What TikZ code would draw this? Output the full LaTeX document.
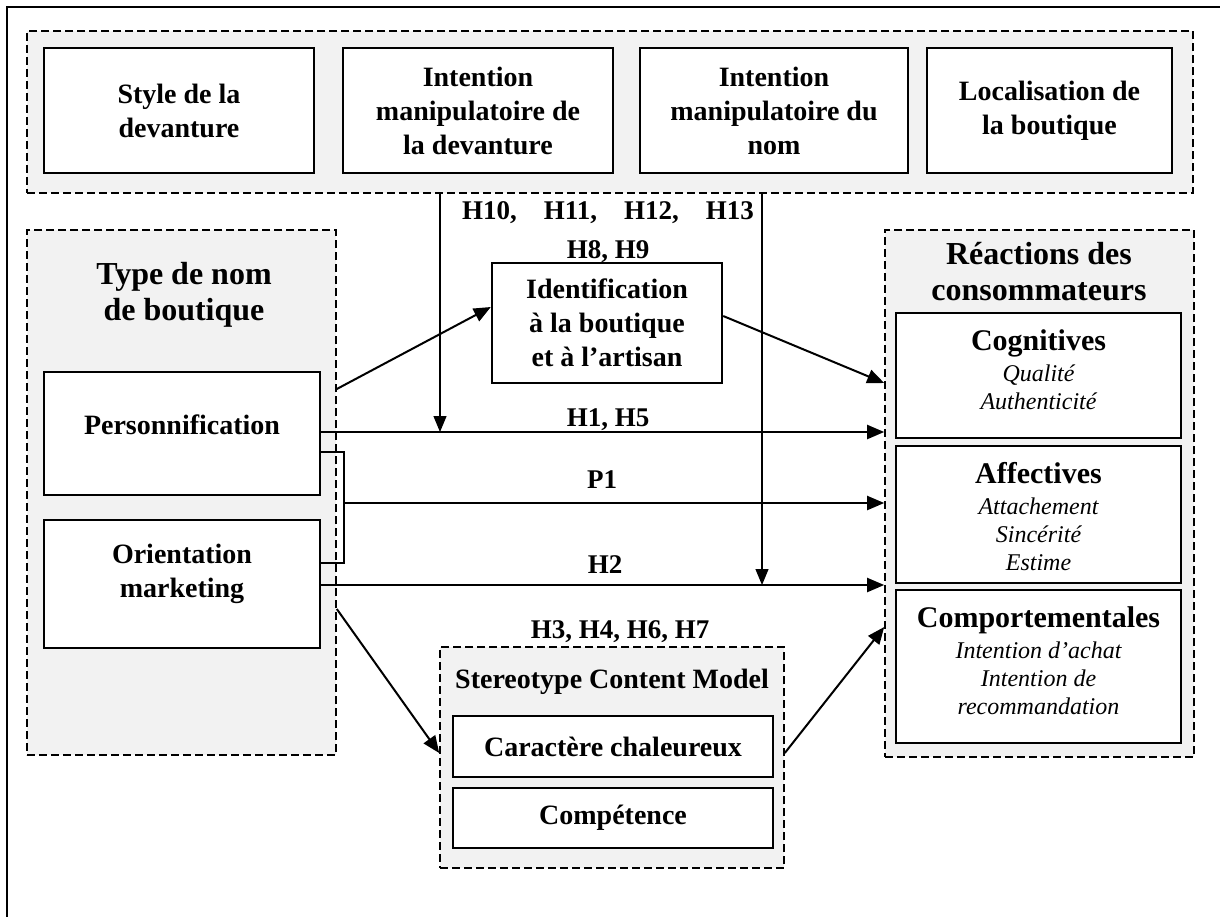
\documentclass[tikz,border=0pt]{standalone}
\usepackage{fontspec}
\setmainfont{Liberation Serif}
\usepackage{xcolor}
\usepackage{tikz}
\usetikzlibrary{arrows.meta}

\definecolor{boxgray}{HTML}{F2F2F2}
\newcommand{\reachead}{\fontsize{15}{17}\selectfont\bfseries\upshape}

\tikzset{
    grp/.style={draw, dash pattern=on 4pt off 2pt, line width=0.8pt, fill=boxgray, inner sep=0pt},
    bx/.style={draw, line width=1.2pt, fill=white, align=center, inner sep=0pt,
        font=\fontsize{14}{17}\selectfont\bfseries},
    bxtxt/.style={align=center, inner sep=0pt, font=\fontsize{14}{17}\selectfont\bfseries},
    itmtxt/.style={align=center, inner sep=0pt, font=\fontsize{12}{14}\selectfont\itshape},
    ttl/.style={align=center, inner sep=0pt, font=\fontsize{16}{18}\selectfont\bfseries},
    hyp/.style={inner sep=0pt, font=\fontsize{13.5}{16}\selectfont\bfseries},
    arr/.style={line width=1pt, -{Triangle[length=8.5pt,width=7pt]}},
    modarr/.style={line width=0.6pt, -{Triangle[length=8pt,width=6.5pt]}},
}

\begin{document}
\begin{tikzpicture}[x=0.5pt, y=-0.5pt]
        \clip (0,0) rectangle (1220,916);
        \draw[line width=1.3pt] (7,7) rectangle (1240,940);

        % groups
        \node[grp, minimum width=583pt, minimum height=81pt] (topgrp) at (610,112) {};
        \node[grp, minimum width=154.5pt, minimum height=262.5pt] (typgrp) at (181.5,492.5) {};
        \node[grp, minimum width=154.5pt, minimum height=263.5pt] (reacgrp) at (1039.5,493.5) {};
        \node[grp, minimum width=172pt, minimum height=110.5pt] (scmgrp) at (612,757.5) {};

        % top row
        \node[bx, minimum width=135pt, minimum height=62.5pt] (style) at (179,110.5) {Style de la\\devanture};
        \node[bx, minimum width=135pt, minimum height=62.5pt] (intdev) at (478,110.5) {Intention\\manipulatoire de\\la devanture};
        \node[bx, minimum width=134pt, minimum height=62.5pt] (intnom) at (774,110.5) {Intention\\manipulatoire du\\nom};
        \node[bx, minimum width=122.5pt, minimum height=62.5pt] (loc) at (1049.5,110.5) {Localisation de\\la boutique};

        % type de nom
        \node[ttl] (typttl) at (184,295) {Type de nom\\de boutique};
        \node[bx, minimum width=138pt, minimum height=61.5pt] (perso) at (182,433.5) {};
        \node[bxtxt] (persotxt) at (182,425) {Personnification};
        \node[bx, minimum width=138pt, minimum height=64pt] (orient) at (182,584) {};
        \node[bxtxt] (orienttxt) at (182,574) {Orientation\\marketing};

        % mediateur
        \node[bx, minimum width=115pt, minimum height=60pt] (ident) at (607,323) {Identification\\à la boutique\\et à l’artisan};

        % reactions
        \node[ttl] (reacttl) at (1039,272) {Réactions des\\consommateurs};
        \node[bx, minimum width=142.5pt, minimum height=62.5pt] (cog) at (1038.5,375.5) {};
        \node[itmtxt] (cogtxt) at (1038.5,370)
            {{\reachead Cognitives}\\[1.5pt]Qualité\\Authenticité};
        \node[bx, minimum width=142.5pt, minimum height=68.5pt] (aff) at (1038.5,514.5) {};
        \node[itmtxt] (afftxt) at (1038.5,517)
            {{\reachead Affectives}\\[1.5pt]Attachement\\Sincérité\\Estime};
        \node[bx, minimum width=142.5pt, minimum height=76.5pt] (compt) at (1038.5,666.5) {};
        \node[itmtxt] (compttxt) at (1038.5,661)
            {{\reachead Comportementales}\\[1.5pt]Intention d’achat\\Intention de\\recommandation};

        % stereotype content model
        \node[bxtxt] (scmttl) at (612,682) {Stereotype Content Model};
        \node[bx, minimum width=160pt, minimum height=30.5pt] (chal) at (613,746.5) {Caractère chaleureux};
        \node[bx, minimum width=160pt, minimum height=30pt] (compe) at (613,818) {Compétence};

        % hypotheses
        \node[hyp] (hmod) at (608,213) {H10,\quad H11,\quad H12,\quad H13};
        \node[hyp] (hident) at (608,252) {H8, H9};
        \node[hyp] (hone) at (608,420) {H1, H5};
        \node[hyp] (pone) at (602,480) {P1};
        \node[hyp] (htwo) at (605,565) {H2};
        \node[hyp] (hscm) at (620,632) {H3, H4, H6, H7};

        % connectors
        \coordinate (brk) at (344,503);
        \coordinate (modone) at (440,432);
        \coordinate (modtwo) at (762,585);
        \draw[line width=1pt] (perso.east |- 0,452) -- (brk |- 0,452) -- (brk |- 0,563) -- (orient.east |- 0,563);

        \draw[arr] (typgrp.east |- 0,389) -- (ident.west |- 0,307);
        \draw[arr] (ident.east |- 0,316) -- (reacgrp.west |- 0,383);
        \draw[arr] (perso.east |- modone) -- (reacgrp.west |- modone);
        \draw[arr] (brk) -- (reacgrp.west |- brk);
        \draw[arr] (orient.east |- modtwo) -- (reacgrp.west |- modtwo);
        \draw[arr] (typgrp.east |- 0,609) -- (scmgrp.west |- 0,753);
        \draw[arr] (scmgrp.east |- 0,753) -- (reacgrp.west |- 0,627);

        \draw[modarr] (topgrp.south -| modone) -- (modone);
        \draw[modarr] (topgrp.south -| modtwo) -- (modtwo);
    \end{tikzpicture}
\end{document}
